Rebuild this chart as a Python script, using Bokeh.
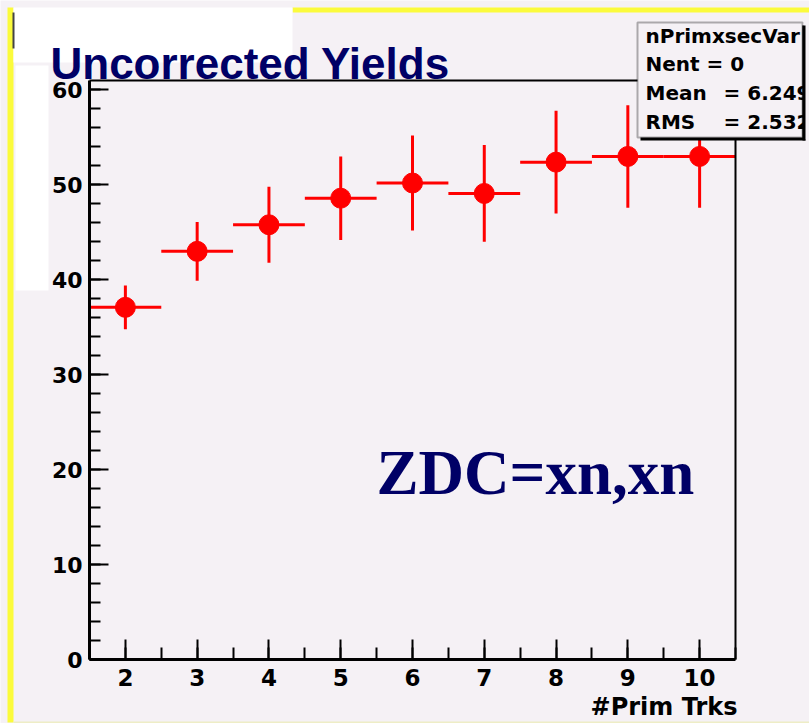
from bokeh.plotting import figure
from bokeh.models import (BoxAnnotation, Label, LinearAxis, SingleIntervalTicker,
                          FixedTicker, Range1d, ColumnDataSource)
from bokeh.embed import file_html
from bokeh.resources import INLINE

# Uncorrected yields per primary-track multiplicity bin (ZDC = xn,xn)
n_prim_trks = [2, 3, 4, 5, 6, 7, 8, 9, 10]
yields = [37.1, 43.0, 45.8, 48.6, 50.2, 49.1, 52.4, 53.0, 53.0]
yield_err = [2.3, 3.1, 4.0, 4.4, 5.0, 5.1, 5.4, 5.4, 5.4]
bin_width = 1.0

# Histogram statistics box contents
stats_name = "nPrimxsecVar"
stats_entries = 0
stats_mean = "6.249"
stats_rms = "2.532"

BG = "#f5f1f5"
NAVY = "#000066"
RED = "#ff0000"
YELLOW = "#fbfb3c"
TICK_FONT = "DejaVu Sans"

# Canvas geometry: the histogram pad sits inside a decorated page
W, H = 809, 723
PAD_L, PAD_R, PAD_T, PAD_B = 89, 735, 80, 659
X_LO, X_HI = 1.5, 10.5
Y_LO, Y_HI = 0.0, 61.0
sx = (PAD_R - PAD_L) / (X_HI - X_LO)
sy = (PAD_B - PAD_T) / (Y_HI - Y_LO)

p = figure(width=W, height=H,
           x_range=Range1d(X_LO - PAD_L / sx, X_HI + (W - PAD_R) / sx),
           y_range=Range1d(Y_LO - (H - PAD_B) / sy, Y_HI + PAD_T / sy),
           x_axis_location=None, y_axis_location=None,
           output_backend="svg", toolbar_location=None,
           background_fill_color=BG, border_fill_color=BG,
           outline_line_color=None,
           min_border=0)
p.xgrid.visible = False
p.ygrid.visible = False

# --- axes drawn along the pad edges ------------------------------------
xa = LinearAxis(ticker=SingleIntervalTicker(interval=1, num_minor_ticks=2),
                fixed_location=Y_LO, bounds=(X_LO, X_HI))
ya = LinearAxis(ticker=SingleIntervalTicker(interval=10, num_minor_ticks=5),
                fixed_location=X_LO, bounds=(Y_LO, Y_HI))
for ax, maj, mnr, stand, fs in ((xa, 20, 12, 9, "23px"), (ya, 19, 11, 7, "22px")):
    ax.axis_line_width = 3
    ax.axis_line_color = "black"
    ax.major_tick_in = maj
    ax.major_tick_out = 0
    ax.minor_tick_in = mnr
    ax.minor_tick_out = 0
    ax.major_tick_line_width = 2
    ax.minor_tick_line_width = 2
    ax.major_tick_line_color = "black"
    ax.minor_tick_line_color = "black"
    ax.major_label_standoff = stand
    ax.major_label_text_font = TICK_FONT
    ax.major_label_text_font_style = "bold"
    ax.major_label_text_font_size = fs
    ax.major_label_text_color = "black"
p.add_layout(xa, "below")
p.add_layout(ya, "left")

# plain frame lines on top and right
for side, loc, bnd in (("above", Y_HI, (X_LO, X_HI)), ("right", X_HI, (Y_LO, Y_HI))):
    fa = LinearAxis(ticker=FixedTicker(ticks=[]), fixed_location=loc, bounds=bnd,
                    axis_line_width=2, axis_line_color="black",
                    major_tick_line_color=None, minor_tick_line_color=None,
                    major_label_text_font_size="0px")
    p.add_layout(fa, side)

# --- data: error crosses and markers ---------------------------------
src = ColumnDataSource(dict(
    x=n_prim_trks,
    y=yields,
    lo=[v - e for v, e in zip(yields, yield_err)],
    hi=[v + e for v, e in zip(yields, yield_err)],
    xl=[x - bin_width / 2 for x in n_prim_trks],
    xr=[x + bin_width / 2 for x in n_prim_trks],
))
p.segment(x0="x", y0="lo", x1="x", y1="hi", source=src, line_color=RED, line_width=3)
p.segment(x0="xl", y0="y", x1="xr", y1="y", source=src, line_color=RED, line_width=3)
p.scatter("x", "y", source=src, marker="circle", size=20,
          fill_color=RED, line_color=RED)


def box(l, r, t, b, fill, line=None, lw=0):
    p.add_layout(BoxAnnotation(left=l, right=r, top=t, bottom=b,
                               left_units="canvas", right_units="canvas",
                               top_units="canvas", bottom_units="canvas",
                               fill_color=fill, fill_alpha=1.0,
                               line_color=line, line_width=lw))


def label(x, y, text, size, color="black", font=TICK_FONT, style="bold",
          align="left", baseline="alphabetic"):
    p.add_layout(Label(x=x, y=y, x_units="canvas", y_units="canvas", text=text,
                       text_font=font, text_font_style=style,
                       text_font_size=size, text_color=color,
                       text_align=align, text_baseline=baseline))


# --- page decorations -------------------------------------------------
box(7, 13, 7, 722, YELLOW)
box(292, 809, 7, 12, YELLOW)
box(13, 809, 721, 723, "#eeedc6")
box(13, 292, 7, 62, "white")
box(15, 48, 65, 290, "white")
box(12, 14, 12, 48, "#444444")

label(50, 63, "Uncorrected Yields", "44px", color=NAVY, font="Liberation Sans")
label(376, 472, "ZDC=xn,xn", "63px", color=NAVY, font="Liberation Serif")
label(737, 706, "#Prim Trks", "24px", align="right")

# --- statistics box ---------------------------------------------------
box(640, 805, 25, 140, "black")
box(637, 802, 22, 137, BG, line="black", lw=2)
label(645, 35, stats_name, "20px", baseline="middle")
label(645, 63, f"Nent = {stats_entries}", "20px", baseline="middle")
label(645, 92, "Mean", "20px", baseline="middle")
label(723, 92, f"= {stats_mean}", "20px", baseline="middle")
label(645, 121, "RMS", "20px", baseline="middle")
label(723, 121, f"= {stats_rms}", "20px", baseline="middle")
# trim text running past the right edge of the box
box(803, 809, 23, 139, BG)
box(802, 805, 25, 140, "black")

open("out.html", "w").write(file_html(p, INLINE))
